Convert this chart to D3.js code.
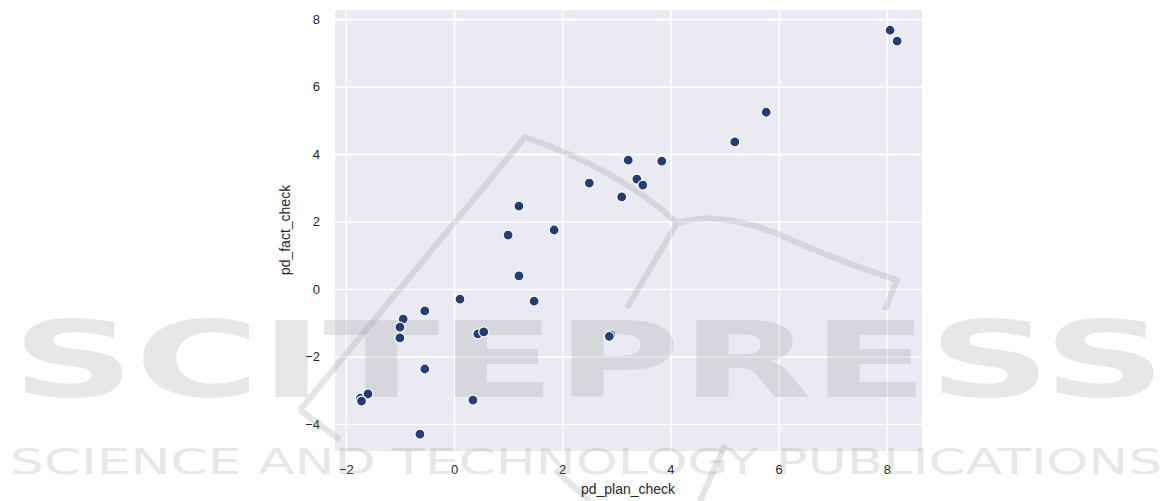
<!DOCTYPE html>
<html><head><meta charset="utf-8">
<script src="https://cdn.jsdelivr.net/npm/d3@7"></script>
<style>body{margin:0;background:#fff;} svg{display:block;}</style>
</head><body>
<svg id="c" width="1172" height="501"></svg>
<script>
// data
const planCheck = [8.06, 8.19, 5.77, 5.19, 3.84, 3.22, 3.38, 3.49, 3.10, 2.50, 1.20, 1.00, 1.85, 1.20, 1.48, 0.11, -0.54, -0.94, -1.00, -1.00, 0.44, 0.55, 2.90, 2.87, -0.54, 0.35, -0.63, -1.73, -1.59, -1.71];
const factCheck = [7.67, 7.35, 5.24, 4.36, 3.79, 3.82, 3.26, 3.08, 2.73, 3.14, 2.46, 1.60, 1.75, 0.39, -0.36, -0.30, -0.65, -0.89, -1.13, -1.45, -1.33, -1.27, -1.36, -1.40, -2.37, -3.29, -4.30, -3.23, -3.11, -3.32];
const xTicks = [-2, 0, 2, 4, 6, 8];
const yTicks = [-4, -2, 0, 2, 4, 6, 8];
const xLabel = "pd_plan_check";
const yLabel = "pd_fact_check";
const wmBig = "SCITEPRESS";
const wmSmall = "SCIENCE AND TECHNOLOGY PUBLICATIONS";

const svg = d3.select("#c");
const L = 335, R = 922, T = 10, B = 451;
const x = d3.scaleLinear().domain([-2.2, 8.65]).range([L, R]);
const y = d3.scaleLinear().domain([-4.8, 8.27]).range([B, T]);

svg.append("rect").attr("x", L).attr("y", T).attr("width", R - L).attr("height", B - T).attr("fill", "#eaeaf2");

const gx = svg.append("g").attr("transform", `translate(0,${B})`)
  .call(d3.axisBottom(x).tickValues(xTicks).tickSize(-(B - T)).tickPadding(14).tickFormat(d3.format("d")));
const gy = svg.append("g").attr("transform", `translate(${L},0)`)
  .call(d3.axisLeft(y).tickValues(yTicks).tickSize(-(R - L)).tickPadding(15).tickFormat(d3.format("d")));
[gx, gy].forEach(g => {
  g.select(".domain").remove();
  g.selectAll(".tick line").attr("stroke", "#fff").attr("stroke-width", 1.6);
  g.selectAll(".tick text").attr("fill", "#262626").attr("font-family", "'Liberation Sans', Arial, sans-serif").attr("font-size", 13);
});

// watermark (semi-transparent overlay)
const wm = svg.append("g").attr("fill", "#8c8c8c").attr("opacity", 0.2).attr("font-family", "'DejaVu Sans', sans-serif");
wm.append("text").attr("x", 12).attr("y", 397).attr("font-size", 106).attr("font-weight", "bold")
  .attr("textLength", 1154).attr("lengthAdjust", "spacingAndGlyphs").text(wmBig);
wm.append("text").attr("x", 10).attr("y", 474).attr("font-size", 36)
  .attr("textLength", 1152).attr("lengthAdjust", "spacingAndGlyphs").text(wmSmall);
const lg = svg.append("g").attr("fill", "none").attr("stroke", "#8c8c8c").attr("opacity", 0.22).attr("stroke-width", 6).attr("stroke-linejoin", "round");
lg.append("path").attr("d", "M300,410 L525,137 Q620,170 677,223");
lg.append("path").attr("d", "M677,223 Q720,210 780,235 Q840,262 897,280 L885,310");
lg.append("path").attr("d", "M677,223 L627,308");
lg.append("path").attr("d", "M300,410 L340,440");
lg.append("path").attr("d", "M555,470 L590,501");
lg.append("path").attr("d", "M725,445 L700,501");

svg.append("g").selectAll("circle").data(planCheck.map((v, i) => [v, factCheck[i]])).join("circle")
  .attr("cx", d => x(d[0])).attr("cy", d => y(d[1])).attr("r", 5)
  .attr("fill", "#223d7a").attr("stroke", "#fff").attr("stroke-width", 1.2);

svg.append("text").attr("x", 628).attr("y", 494).attr("text-anchor", "middle")
  .attr("font-family", "'Liberation Sans', Arial, sans-serif").attr("font-size", 14).attr("fill", "#262626").text(xLabel);
svg.append("text").attr("transform", "translate(290,230) rotate(-90)").attr("text-anchor", "middle")
  .attr("font-family", "'Liberation Sans', Arial, sans-serif").attr("font-size", 14).attr("fill", "#262626").text(yLabel);
</script>
</body></html>
